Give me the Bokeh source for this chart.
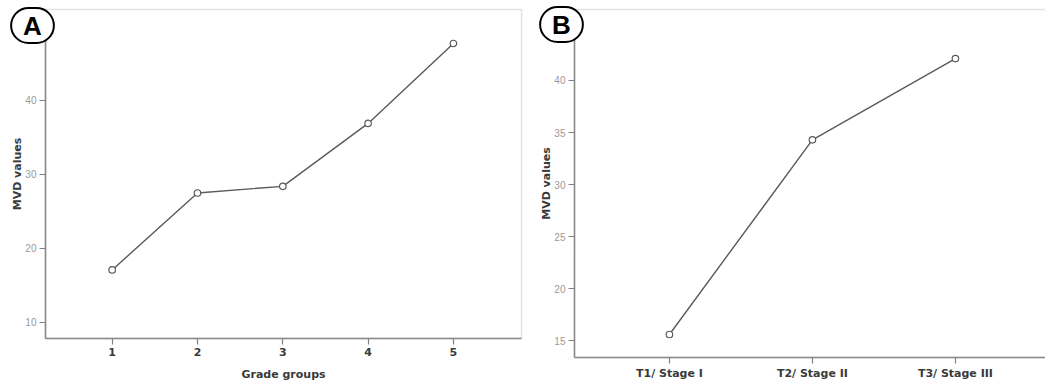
from bokeh.plotting import figure
from bokeh.models import Range1d, FixedTicker, Label, LinearAxis, BoxAnnotation, Grid
from bokeh.embed import file_html
from bokeh.resources import INLINE

# ---- data ----
grade_groups = [1, 2, 3, 4, 5]
mvd_by_grade = [17.1, 27.5, 28.4, 36.9, 47.7]
grade_yticks = [10, 20, 30, 40]

stages = ["T1/ Stage I", "T2/ Stage II", "T3/ Stage III"]
mvd_by_stage = [15.6, 34.3, 42.1]
stage_yticks = [15, 20, 25, 30, 35, 40]

# ---- layout (ranges span the whole canvas; panels are boxes within it) ----
A_X = (-0.309, 11.94)
A_Y = (1.216, 53.51)
B_X = (-3.678, 3.63)
B_Y = (10.51, 47.68)
A_BOX = dict(left=0.218, right=5.799, bottom=7.83, top=52.29)
B_BOX = dict(left=0.336, right=3.70, bottom=13.39, top=46.82)

LINE = "#5a5a5a"
FRAME = "#a0a0a0"
AXIS = "#808080"
TICKLAB = "#9a9a9a"
DARK = "#3a3a3a"
FONT = "DejaVu Sans"

p = figure(width=1045, height=387, output_backend="svg", toolbar_location=None,
           x_range=Range1d(*A_X), y_range=Range1d(*A_Y),
           x_axis_location=None, y_axis_location=None, min_border=0)
p.outline_line_color = None
p.background_fill_color = "white"
p.border_fill_color = "white"
p.extra_x_ranges = {"xb": Range1d(*B_X)}
p.extra_y_ranges = {"yb": Range1d(*B_Y)}


def add_box(box, xr="default", yr="default"):
    b = BoxAnnotation(**box, fill_color=None, fill_alpha=0,
                      line_color=FRAME, line_width=1.5,
                      x_range_name=xr, y_range_name=yr)
    p.add_layout(b)


def style_axis(ax, ylike):
    ax.axis_line_color = AXIS
    ax.axis_line_width = 1.5
    ax.major_tick_line_color = AXIS
    ax.major_tick_line_width = 1.2
    ax.major_tick_out = 6
    ax.major_tick_in = 0
    ax.minor_tick_line_color = None
    if ylike:
        ax.major_label_text_color = TICKLAB
        ax.major_label_text_font = "Liberation Sans"
        ax.major_label_text_font_size = "10px"
        ax.major_label_standoff = 3
        ax.axis_label = "MVD values"
        ax.axis_label_standoff = -2
    else:
        ax.major_label_text_font = FONT
        ax.major_label_text_font_style = "bold"
        ax.major_label_text_font_size = "11px"
        ax.major_label_text_color = DARK
        ax.major_label_standoff = 3
        ax.axis_label_standoff = 9
    ax.axis_label_text_font = FONT
    ax.axis_label_text_font_style = "bold"
    ax.axis_label_text_font_size = "11px"
    ax.axis_label_text_color = DARK


# ---- panel A ----
add_box(A_BOX)
ay = LinearAxis(fixed_location=A_BOX["left"], bounds=(A_BOX["bottom"], A_BOX["top"]),
                ticker=FixedTicker(ticks=grade_yticks))
style_axis(ay, True)
p.add_layout(ay, "left")
ax_ = LinearAxis(fixed_location=A_BOX["bottom"], bounds=(A_BOX["left"], A_BOX["right"]),
                 ticker=FixedTicker(ticks=grade_groups), axis_label="Grade groups")
style_axis(ax_, False)
p.add_layout(ax_, "below")
p.line(grade_groups, mvd_by_grade, line_color=LINE, line_width=1.4)
p.scatter(grade_groups, mvd_by_grade, marker="circle", size=6.5,
          fill_color="white", line_color=LINE, line_width=1.2)

# ---- panel B ----
xs = list(range(1, len(stages) + 1))
add_box(B_BOX, "xb", "yb")
by = LinearAxis(x_range_name="xb", y_range_name="yb",
                fixed_location=B_BOX["left"], bounds=(B_BOX["bottom"], B_BOX["top"]),
                ticker=FixedTicker(ticks=stage_yticks))
style_axis(by, True)
p.add_layout(by, "left")
bx = LinearAxis(x_range_name="xb", y_range_name="yb",
                fixed_location=B_BOX["bottom"], bounds=(B_BOX["left"], B_X[1]),
                ticker=FixedTicker(ticks=xs))
bx.major_label_overrides = {i: s for i, s in zip(xs, stages)}
style_axis(bx, False)
p.add_layout(bx, "below")
p.line(xs, mvd_by_stage, line_color=LINE, line_width=1.4,
       x_range_name="xb", y_range_name="yb")
p.scatter(xs, mvd_by_stage, marker="circle", size=6.5, fill_color="white",
          line_color=LINE, line_width=1.2, x_range_name="xb", y_range_name="yb")

# no grid lines anywhere
for r in list(p.renderers) + list(p.center):
    if isinstance(r, Grid):
        r.visible = False
p.center = [c for c in p.center if not isinstance(c, Grid)]


# ---- panel letters ----
def panel_label(text, x, y):
    lab = Label(x=x, y=y, x_units="screen", y_units="screen", text=text,
                text_font="Liberation Sans", text_font_style="bold",
                text_font_size="26px", text_color="black",
                text_align="center", text_baseline="middle",
                background_fill_color="white",
                border_line_color="black", border_line_width=2,
                border_radius=18,
                padding=dict(left=12, right=12, top=3, bottom=2))
    p.add_layout(lab)


panel_label("A", 32, 362)
panel_label("B", 561, 363)

open("out.html", "w").write(file_html(p, INLINE))
